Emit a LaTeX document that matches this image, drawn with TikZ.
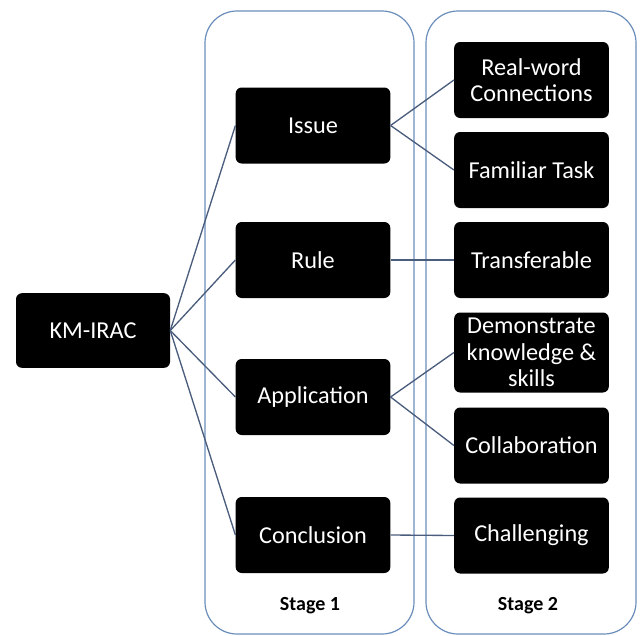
\documentclass[tikz,border=0pt]{standalone}
\usepackage{fontspec}
\setmainfont{Carlito}
\definecolor{stageblue}{HTML}{6A8DBB}
\definecolor{linkblue}{HTML}{4B5D7C}
\begin{document}
\begin{tikzpicture}[x=0.75pt,y=-0.75pt,
  blackbox/.style={draw=none,fill=black,rounded corners=4.5pt,text=white,
    minimum width=116pt,minimum height=57pt,align=center,inner sep=1pt,
    font=\fontsize{18.2pt}{19.8pt}\selectfont},
  stagebox/.style={draw=stageblue,line width=0.9pt,rounded corners=24pt},
  stagelabel/.style={font=\fontsize{15pt}{18pt}\selectfont\bfseries},
  link/.style={draw=linkblue,line width=1pt}]
\useasboundingbox (0,0) rectangle (640,636);
% containers
\draw[stagebox] (205,11) rectangle (414,634);
\draw[stagebox] (426,11) rectangle (636,634);
\node[stagelabel] (s1) at (310,606) {Stage 1};
\node[stagelabel] (s2) at (528,606) {Stage 2};
% root
\node[blackbox,minimum width=115.5pt,minimum height=56pt] (km) at (93,330.5) {KM-IRAC};
% stage 1
\node[blackbox] (issue) at (313,125.5) {Issue};
\node[blackbox] (rule) at (313,260) {Rule};
\node[blackbox] (app) at (313,397) {Application};
\node[blackbox] (conc) at (313,535) {Conclusion};
% stage 2
\node[blackbox] (real) at (531.5,80) {Real-word\\Connections};
\node[blackbox] (fam) at (531.5,170) {Familiar Task};
\node[blackbox] (trans) at (531.5,260) {Transferable};
\node[blackbox,minimum height=60pt] (demo) at (531.5,352.5) {Demonstrate\\knowledge \&\\skills};
\node[blackbox] (coll) at (531.5,445.5) {Collaboration};
\node[blackbox] (chal) at (531.5,535.5) {Challenging};
% connectors
\foreach \t in {issue,rule,app,conc} \draw[link] (km.east) -- (\t.west);
\draw[link] (issue.east) -- (real.west);
\draw[link] (issue.east) -- (fam.west);
\draw[link] (rule.east) -- (trans.west);
\draw[link] (app.east) -- (demo.west);
\draw[link] (app.east) -- (coll.west);
\draw[link] (conc.east) -- (chal.west);
\end{tikzpicture}
\end{document}
